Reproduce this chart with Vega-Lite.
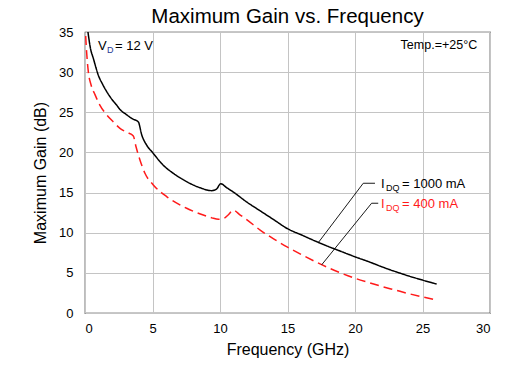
{
  "$schema": "https://vega.github.io/schema/vega-lite/v6.json",
  "width": 405,
  "height": 281,
  "autosize": {"type": "none"},
  "padding": {"left": 85, "top": 32, "right": 30, "bottom": 53},
  "background": "white",
  "title": {"text": "Maximum Gain vs. Frequency", "fontSize": 20.5, "fontWeight": "normal", "font": "Liberation Sans", "color": "black", "offset": -1, "anchor": "middle"},
  "config": {
    "view": {"stroke": "#222", "strokeWidth": 1.2},
    "axis": {"labelFont": "Liberation Sans", "labelFontSize": 13, "labelColor": "black", "titleFont": "Liberation Sans", "titleFontSize": 16, "titleFontWeight": "normal", "titleColor": "black", "gridColor": "#c4c4c4", "gridWidth": 1, "tickSize": 0, "domain": false},
    "text": {"font": "Liberation Sans"}
  },
  "datasets": {
    "curves": [
      {"series": "1000 mA", "f": 0.22, "g": 35.0},
      {"series": "1000 mA", "f": 0.4, "g": 33.0},
      {"series": "1000 mA", "f": 0.62, "g": 31.7},
      {"series": "1000 mA", "f": 0.99, "g": 29.6},
      {"series": "1000 mA", "f": 1.3, "g": 28.5},
      {"series": "1000 mA", "f": 1.6, "g": 27.6},
      {"series": "1000 mA", "f": 2.0, "g": 26.6},
      {"series": "1000 mA", "f": 2.34, "g": 25.9},
      {"series": "1000 mA", "f": 2.59, "g": 25.35},
      {"series": "1000 mA", "f": 3.08, "g": 24.7},
      {"series": "1000 mA", "f": 3.5, "g": 24.2},
      {"series": "1000 mA", "f": 3.95, "g": 23.8},
      {"series": "1000 mA", "f": 4.2, "g": 22.2},
      {"series": "1000 mA", "f": 4.57, "g": 20.9},
      {"series": "1000 mA", "f": 5.0, "g": 20.0},
      {"series": "1000 mA", "f": 5.8, "g": 18.4},
      {"series": "1000 mA", "f": 6.54, "g": 17.4},
      {"series": "1000 mA", "f": 7.53, "g": 16.36},
      {"series": "1000 mA", "f": 8.52, "g": 15.6},
      {"series": "1000 mA", "f": 9.38, "g": 15.24},
      {"series": "1000 mA", "f": 9.75, "g": 15.45},
      {"series": "1000 mA", "f": 10.05, "g": 16.1},
      {"series": "1000 mA", "f": 10.5, "g": 15.6},
      {"series": "1000 mA", "f": 11.0, "g": 15.05},
      {"series": "1000 mA", "f": 12.0, "g": 13.8},
      {"series": "1000 mA", "f": 13.0, "g": 12.7},
      {"series": "1000 mA", "f": 14.0, "g": 11.6},
      {"series": "1000 mA", "f": 15.0, "g": 10.5},
      {"series": "1000 mA", "f": 16.0, "g": 9.75},
      {"series": "1000 mA", "f": 17.0, "g": 9.0},
      {"series": "1000 mA", "f": 18.0, "g": 8.3},
      {"series": "1000 mA", "f": 19.0, "g": 7.65},
      {"series": "1000 mA", "f": 20.0, "g": 7.0},
      {"series": "1000 mA", "f": 21.0, "g": 6.4},
      {"series": "1000 mA", "f": 22.0, "g": 5.75},
      {"series": "1000 mA", "f": 23.0, "g": 5.15},
      {"series": "1000 mA", "f": 24.0, "g": 4.6},
      {"series": "1000 mA", "f": 25.0, "g": 4.1},
      {"series": "1000 mA", "f": 26.05, "g": 3.6},
      {"series": "400 mA", "f": 0.05, "g": 34.5},
      {"series": "400 mA", "f": 0.12, "g": 32.5},
      {"series": "400 mA", "f": 0.25, "g": 30.0},
      {"series": "400 mA", "f": 0.45, "g": 28.4},
      {"series": "400 mA", "f": 0.74, "g": 27.2},
      {"series": "400 mA", "f": 1.1, "g": 25.9},
      {"series": "400 mA", "f": 1.6, "g": 24.7},
      {"series": "400 mA", "f": 2.1, "g": 23.8},
      {"series": "400 mA", "f": 2.59, "g": 23.0},
      {"series": "400 mA", "f": 3.1, "g": 22.5},
      {"series": "400 mA", "f": 3.58, "g": 22.05},
      {"series": "400 mA", "f": 3.78, "g": 20.7},
      {"series": "400 mA", "f": 4.07, "g": 19.06},
      {"series": "400 mA", "f": 4.44, "g": 17.4},
      {"series": "400 mA", "f": 5.06, "g": 15.95},
      {"series": "400 mA", "f": 6.05, "g": 14.5},
      {"series": "400 mA", "f": 7.53, "g": 13.05},
      {"series": "400 mA", "f": 8.76, "g": 12.2},
      {"series": "400 mA", "f": 9.4, "g": 11.85},
      {"series": "400 mA", "f": 9.88, "g": 11.67},
      {"series": "400 mA", "f": 10.3, "g": 11.8},
      {"series": "400 mA", "f": 10.6, "g": 12.2},
      {"series": "400 mA", "f": 10.98, "g": 12.8},
      {"series": "400 mA", "f": 11.5, "g": 12.2},
      {"series": "400 mA", "f": 12.0, "g": 11.6},
      {"series": "400 mA", "f": 13.0, "g": 10.3},
      {"series": "400 mA", "f": 14.0, "g": 9.2},
      {"series": "400 mA", "f": 15.0, "g": 8.2},
      {"series": "400 mA", "f": 16.0, "g": 7.3},
      {"series": "400 mA", "f": 17.0, "g": 6.45},
      {"series": "400 mA", "f": 18.0, "g": 5.65},
      {"series": "400 mA", "f": 19.0, "g": 4.95},
      {"series": "400 mA", "f": 20.0, "g": 4.33},
      {"series": "400 mA", "f": 21.0, "g": 3.8},
      {"series": "400 mA", "f": 22.0, "g": 3.3},
      {"series": "400 mA", "f": 23.0, "g": 2.85},
      {"series": "400 mA", "f": 24.0, "g": 2.4},
      {"series": "400 mA", "f": 25.0, "g": 2.0},
      {"series": "400 mA", "f": 26.05, "g": 1.6}
    ],
    "leaders": [
      {"series": "1000 mA", "k": 1, "f": 17.28, "g": 8.76},
      {"series": "1000 mA", "k": 2, "f": 20.61, "g": 16.16},
      {"series": "1000 mA", "k": 3, "f": 21.48, "g": 16.16},
      {"series": "400 mA", "k": 1, "f": 17.53, "g": 6.0},
      {"series": "400 mA", "k": 2, "f": 21.23, "g": 13.67},
      {"series": "400 mA", "k": 3, "f": 21.72, "g": 13.67}
    ],
    "labels": [
      {"series": "1000 mA", "f": 21.93, "g": 15.57, "main": "I", "sub": "DQ", "rest": "= 1000 mA"},
      {"series": "400 mA", "f": 21.93, "g": 13.12, "main": "I", "sub": "DQ", "rest": "= 400 mA"}
    ],
    "notes": [
      {"f": 0.96, "g": 32.7, "main": "V", "sub": "D", "rest": "= 12 V"}
    ],
    "temp": [
      {"f": 29.05, "g": 32.85, "t": "Temp.=+25°C"}
    ]
  },
  "layer": [
    {
      "data": {"name": "curves"},
      "mark": {"type": "line", "strokeWidth": 1.5, "clip": true, "interpolate": "monotone"},
      "encoding": {
        "x": {"field": "f", "type": "quantitative", "scale": {"domain": [0, 30], "nice": false}, "axis": {"values": [0, 5, 10, 15, 20, 25, 30], "title": "Frequency (GHz)", "labelPadding": 9, "titlePadding": 6, "grid": true}},
        "y": {"field": "g", "type": "quantitative", "scale": {"domain": [0, 35], "nice": false}, "axis": {"values": [0, 5, 10, 15, 20, 25, 30, 35], "title": "Maximum Gain (dB)", "labelPadding": 12, "titlePadding": 10, "grid": true}},
        "color": {"field": "series", "type": "nominal", "scale": {"domain": ["1000 mA", "400 mA"], "range": ["#000000", "#ff1a1a"]}, "legend": null},
        "strokeDash": {"field": "series", "type": "nominal", "scale": {"domain": ["1000 mA", "400 mA"], "range": [[1, 0], [9, 5]]}, "legend": null}
      }
    },
    {
      "data": {"name": "leaders"},
      "mark": {"type": "line", "strokeWidth": 0.9, "color": "black"},
      "encoding": {
        "x": {"field": "f", "type": "quantitative"},
        "y": {"field": "g", "type": "quantitative"},
        "detail": {"field": "series"},
        "order": {"field": "k"}
      }
    },
    {
      "data": {"name": "labels"},
      "mark": {"type": "text", "align": "left", "baseline": "alphabetic", "fontSize": 13},
      "encoding": {
        "x": {"field": "f", "type": "quantitative"},
        "y": {"field": "g", "type": "quantitative"},
        "text": {"field": "main"},
        "color": {"field": "series", "type": "nominal", "scale": {"domain": ["1000 mA", "400 mA"], "range": ["#000000", "#ff1a1a"]}, "legend": null}
      }
    },
    {
      "data": {"name": "labels"},
      "mark": {"type": "text", "align": "left", "baseline": "alphabetic", "fontSize": 9, "dx": 5, "dy": 3},
      "encoding": {
        "x": {"field": "f", "type": "quantitative"},
        "y": {"field": "g", "type": "quantitative"},
        "text": {"field": "sub"},
        "color": {"field": "series", "type": "nominal", "scale": {"domain": ["1000 mA", "400 mA"], "range": ["#1f3a93", "#ff1a1a"]}, "legend": null}
      }
    },
    {
      "data": {"name": "labels"},
      "mark": {"type": "text", "align": "left", "baseline": "alphabetic", "fontSize": 13, "dx": 21},
      "encoding": {
        "x": {"field": "f", "type": "quantitative"},
        "y": {"field": "g", "type": "quantitative"},
        "text": {"field": "rest"},
        "color": {"field": "series", "type": "nominal", "scale": {"domain": ["1000 mA", "400 mA"], "range": ["#000000", "#ff1a1a"]}, "legend": null}
      }
    },
    {
      "data": {"name": "notes"},
      "mark": {"type": "text", "align": "left", "baseline": "alphabetic", "fontSize": 13, "color": "black"},
      "encoding": {
        "x": {"field": "f", "type": "quantitative"},
        "y": {"field": "g", "type": "quantitative"},
        "text": {"field": "main"}
      }
    },
    {
      "data": {"name": "notes"},
      "mark": {"type": "text", "align": "left", "baseline": "alphabetic", "fontSize": 9, "color": "#1f3a93", "dx": 9, "dy": 3},
      "encoding": {
        "x": {"field": "f", "type": "quantitative"},
        "y": {"field": "g", "type": "quantitative"},
        "text": {"field": "sub"}
      }
    },
    {
      "data": {"name": "notes"},
      "mark": {"type": "text", "align": "left", "baseline": "alphabetic", "fontSize": 13, "color": "black", "dx": 17},
      "encoding": {
        "x": {"field": "f", "type": "quantitative"},
        "y": {"field": "g", "type": "quantitative"},
        "text": {"field": "rest"}
      }
    },
    {
      "data": {"name": "temp"},
      "mark": {"type": "text", "align": "right", "baseline": "alphabetic", "fontSize": 12.5, "color": "black"},
      "encoding": {
        "x": {"field": "f", "type": "quantitative"},
        "y": {"field": "g", "type": "quantitative"},
        "text": {"field": "t"}
      }
    }
  ]
}
